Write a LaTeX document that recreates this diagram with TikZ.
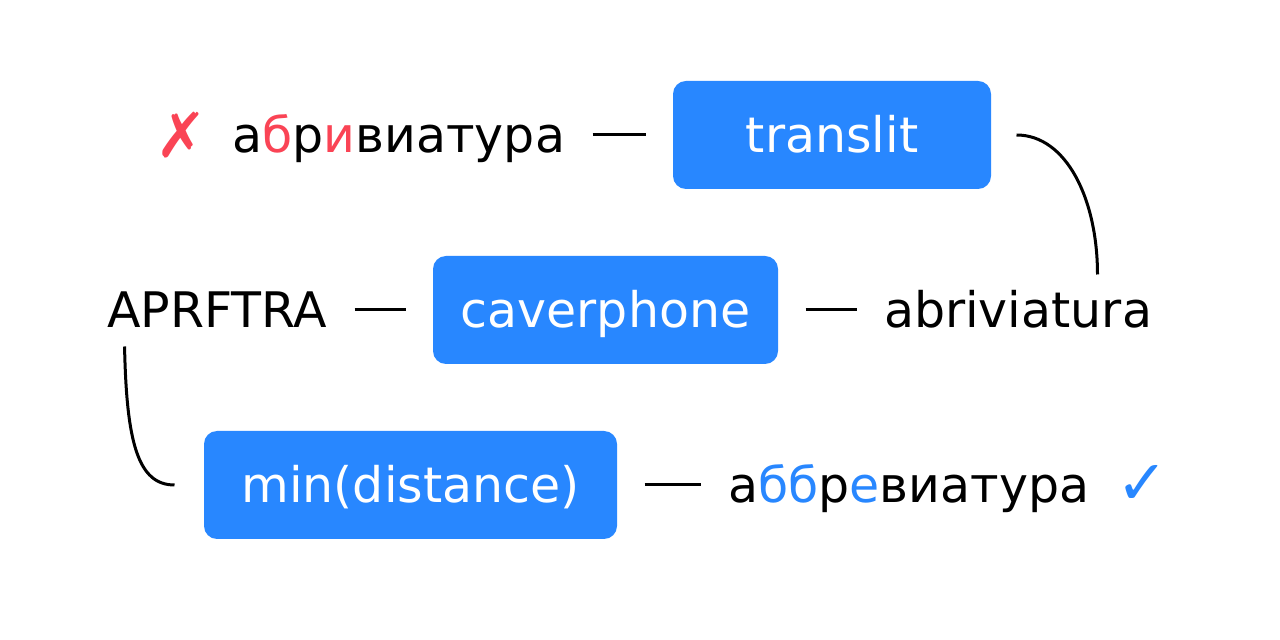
\documentclass[tikz,border=0pt]{standalone}
\usepackage{fontspec}
\setmainfont{DejaVu Sans}
\usepackage{tikz}
\usetikzlibrary{positioning}

\definecolor{boxblue}{RGB}{40,135,255}
\definecolor{badred}{RGB}{250,68,85}

\begin{document}
\begin{tikzpicture}[x=1pt, y=1pt, line width=3pt,
    word/.style = {inner sep=0pt, text height=48pt, text depth=12pt, font=\fontsize{49}{58}\selectfont},
    main/.style = {word, fill=boxblue, text=white, rounded corners=13pt, minimum height=108pt},
    sign/.style = {inner sep=0pt, font=\fontsize{62}{70}\selectfont},
    link/.style = {shorten <=26pt, shorten >=26pt}]

        \fill[white] (0,0) rectangle (1280,640);
        \useasboundingbox (0,0) rectangle (1280,640);

        \node[main, minimum width=318pt] (3) at (832,505) {translit};
        \node[word] (2) [left=105pt of 3] {а\textcolor{badred}{б}р\textcolor{badred}{и}виатура};
        \node[sign, text=badred] (1) [left=22pt of 2] {✗};
        \node[main, minimum width=345pt] (5) at (605.5,330) {caverphone};
        \node[word] (4) [left=103pt of 5] {APRFTRA};
        \node[word] (6) [right=103pt of 5] {abriviatura};
        \node[main, minimum width=413pt] (7) at (410.5,155) {min(distance)};
        \node[word] (8) [right=108pt of 7] {а\textcolor{boxblue}{бб}р\textcolor{boxblue}{е}виатура};
        \node[sign, text=boxblue] (9) [right=24pt of 8] {✓};

        \draw[link] (2) -- (3);
        \draw[link] (4) -- (5);
        \draw[link] (5) -- (6);
        \draw[link] (7) -- (8);
        \draw ([xshift=24pt]3.east) .. controls +(50,0) and +(0,75) .. ([xshift=215pt,yshift=4pt]6.north west);
        \draw ([xshift=19pt,yshift=-5pt]4.south west) .. controls +(2,-95) and +(-37,0) .. ([xshift=-28pt]7.west);

    \end{tikzpicture}
\end{document}
